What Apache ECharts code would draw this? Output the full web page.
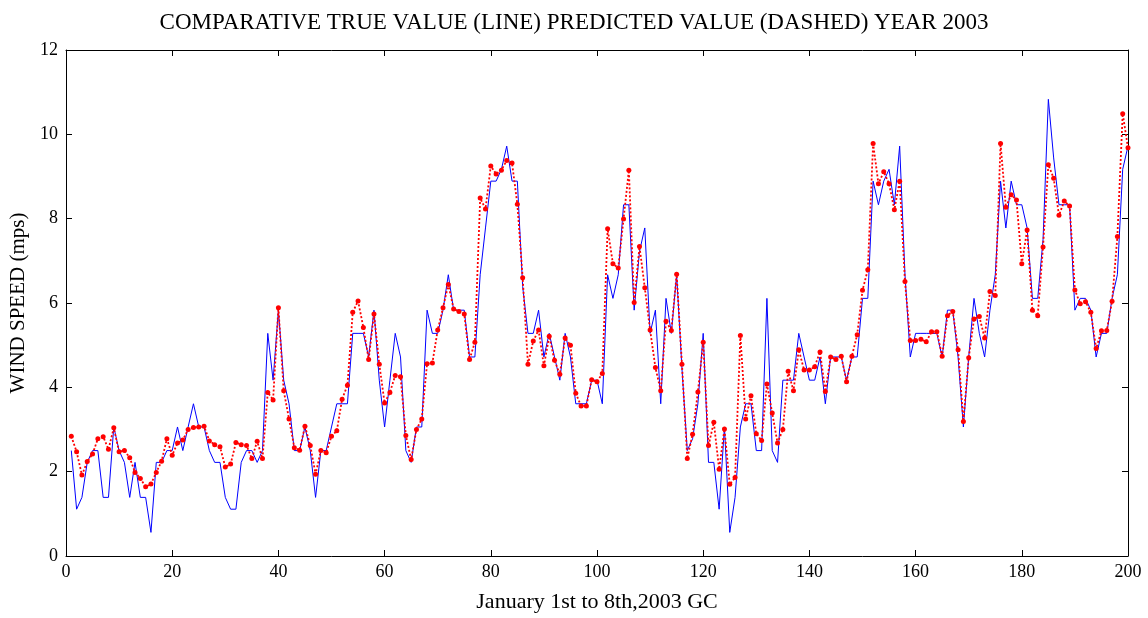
<!DOCTYPE html>
<html><head><meta charset="utf-8">
<script src="https://cdn.jsdelivr.net/npm/echarts@6/dist/echarts.min.js"></script>
<style>html,body{margin:0;padding:0;background:#fff}#c{width:1148px;height:618px}</style>
</head><body><div id="c"></div>
<script>
const titleText = "COMPARATIVE TRUE VALUE (LINE) PREDICTED VALUE (DASHED) YEAR 2003";
const xName = "January 1st to 8th,2003 GC";
const yName = "WIND SPEED (mps)";
const xTicks = [0,20,40,60,80,100,120,140,160,180,200];
const yTicks = [0,2,4,6,8,10,12];
// true value (solid blue), x = 1..200
const trueValue = [
2.50,1.11,1.39,2.22,2.50,2.50,1.39,1.39,3.06,2.50,
2.22,1.39,2.22,1.39,1.39,0.56,2.22,2.22,2.50,2.50,
3.06,2.50,3.06,3.61,3.06,3.06,2.50,2.22,2.22,1.39,
1.11,1.11,2.22,2.50,2.50,2.22,2.50,5.28,4.17,5.83,
4.17,3.61,2.50,2.50,3.06,2.50,1.39,2.50,2.50,3.06,
3.61,3.61,3.61,5.28,5.28,5.28,4.72,5.83,4.17,3.06,
4.17,5.28,4.72,2.50,2.22,3.06,3.06,5.83,5.28,5.28,
5.83,6.67,5.83,5.83,5.83,4.72,4.72,6.67,7.78,8.89,
8.89,9.17,9.72,8.89,8.89,6.39,5.28,5.28,5.83,4.72,
5.28,4.72,4.17,5.28,4.72,3.61,3.61,3.61,4.17,4.17,
3.61,6.67,6.11,6.67,8.33,8.33,5.83,7.22,7.78,5.28,
5.83,3.61,6.11,5.28,6.67,4.44,2.50,2.78,3.61,5.28,
2.22,2.22,1.11,3.06,0.56,1.39,3.06,3.61,3.61,2.50,
2.50,6.11,2.50,2.22,4.17,4.17,4.17,5.28,4.72,4.17,
4.17,4.72,3.61,4.72,4.72,4.72,4.17,4.72,4.72,6.11,
6.11,8.89,8.33,8.89,9.17,8.33,9.72,6.67,4.72,5.28,
5.28,5.28,5.28,5.28,4.72,5.83,5.83,4.72,3.06,4.72,
6.11,5.28,4.72,5.83,6.67,8.89,7.78,8.89,8.33,8.33,
7.78,6.11,6.11,7.50,10.83,9.44,8.33,8.33,8.33,5.83,
6.11,6.11,5.83,4.72,5.28,5.28,6.11,6.67,9.17,9.72
];
// predicted value (dotted red with markers), x = 1..200
const predictedValue = [
2.84,2.47,1.92,2.24,2.42,2.78,2.83,2.53,3.04,2.47,
2.50,2.33,1.98,1.84,1.64,1.71,1.98,2.25,2.78,2.39,
2.68,2.75,3.00,3.05,3.06,3.08,2.73,2.64,2.59,2.11,
2.18,2.69,2.64,2.62,2.31,2.72,2.31,3.88,3.70,5.89,
3.92,3.25,2.57,2.51,3.08,2.62,1.94,2.50,2.45,2.84,
2.97,3.72,4.05,5.78,6.05,5.42,4.66,5.74,4.55,3.63,
3.88,4.28,4.25,2.86,2.29,3.00,3.25,4.56,4.58,5.36,
5.89,6.44,5.86,5.80,5.74,4.66,5.07,8.49,8.23,9.25,
9.06,9.15,9.38,9.32,8.34,6.60,4.55,5.10,5.36,4.51,
5.21,4.64,4.31,5.17,5.00,3.86,3.56,3.56,4.18,4.13,
4.33,7.76,6.93,6.83,7.99,9.15,6.01,7.34,6.36,5.36,
4.47,3.92,5.57,5.35,6.68,4.55,2.31,2.89,3.89,5.07,
2.62,3.17,2.06,3.01,1.70,1.86,5.23,3.25,3.80,2.90,
2.74,4.08,3.39,2.68,3.00,4.38,3.92,4.89,4.41,4.41,
4.49,4.84,3.90,4.72,4.66,4.74,4.13,4.74,5.25,6.30,
6.79,9.78,8.83,9.11,8.83,8.21,8.89,6.51,5.11,5.11,
5.14,5.08,5.32,5.32,4.74,5.70,5.80,4.89,3.19,4.70,
5.62,5.68,5.17,6.27,6.18,9.78,8.27,8.57,8.44,6.93,
7.73,5.83,5.70,7.33,9.28,8.96,8.08,8.42,8.30,6.31,
5.98,6.03,5.78,4.92,5.34,5.35,6.04,7.58,10.49,9.68
];

const chart = echarts.init(document.getElementById('c'), null, {renderer:'canvas'});
const font = 'Liberation Serif';
const xMin = xTicks[0], xMax = xTicks[xTicks.length-1], xStep = xTicks[1]-xTicks[0];
const yMin = yTicks[0], yMax = yTicks[yTicks.length-1], yStep = yTicks[1]-yTicks[0];
const tick = {show:true, inside:true, length:6, lineStyle:{color:'#000', width:1}};
const baseX = {type:'value', min:xMin, max:xMax, interval:xStep, splitLine:{show:false},
  axisLine:{show:true, onZero:false, lineStyle:{color:'#000', width:1}}, axisTick:tick};
const baseY = {type:'value', min:yMin, max:yMax, interval:yStep, splitLine:{show:false},
  axisLine:{show:true, onZero:false, lineStyle:{color:'#000', width:1}}, axisTick:tick};
chart.setOption({
  animation:false,
  backgroundColor:'#fff',
  title:{text:titleText, left:'center', top:6, textStyle:{fontFamily:font, fontSize:23, fontWeight:'normal', color:'#000'}},
  grid:{left:66, right:20, top:50, bottom:57},
  xAxis:[
    Object.assign({}, baseX, {position:'bottom', name:xName, nameLocation:'middle', nameGap:35,
      nameTextStyle:{fontFamily:font, fontSize:22, color:'#000'},
      axisLabel:{fontFamily:font, fontSize:18, color:'#000', margin:7}}),
    Object.assign({}, baseX, {position:'top', axisLabel:{show:false}})
  ],
  yAxis:[
    Object.assign({}, baseY, {position:'left', name:yName, nameLocation:'middle', nameGap:33,
      nameTextStyle:{fontFamily:font, fontSize:21, color:'#000'},
      axisLabel:{fontFamily:font, fontSize:18, color:'#000', margin:8}}),
    Object.assign({}, baseY, {position:'right', axisLabel:{show:false}})
  ],
  series:[
    {type:'line', name:'True', data:trueValue.map((v,i)=>[i+1, v]), showSymbol:false, symbol:'none',
      lineStyle:{color:'#0000ff', width:1}, z:2},
    {type:'line', name:'Predicted', data:predictedValue.map((v,i)=>[i+1, v]), symbol:'circle', symbolSize:5,
      itemStyle:{color:'#ff0000'}, lineStyle:{color:'#ff0000', width:1.8, type:[2,2]}, z:3}
  ]
});
</script>
</body></html>
